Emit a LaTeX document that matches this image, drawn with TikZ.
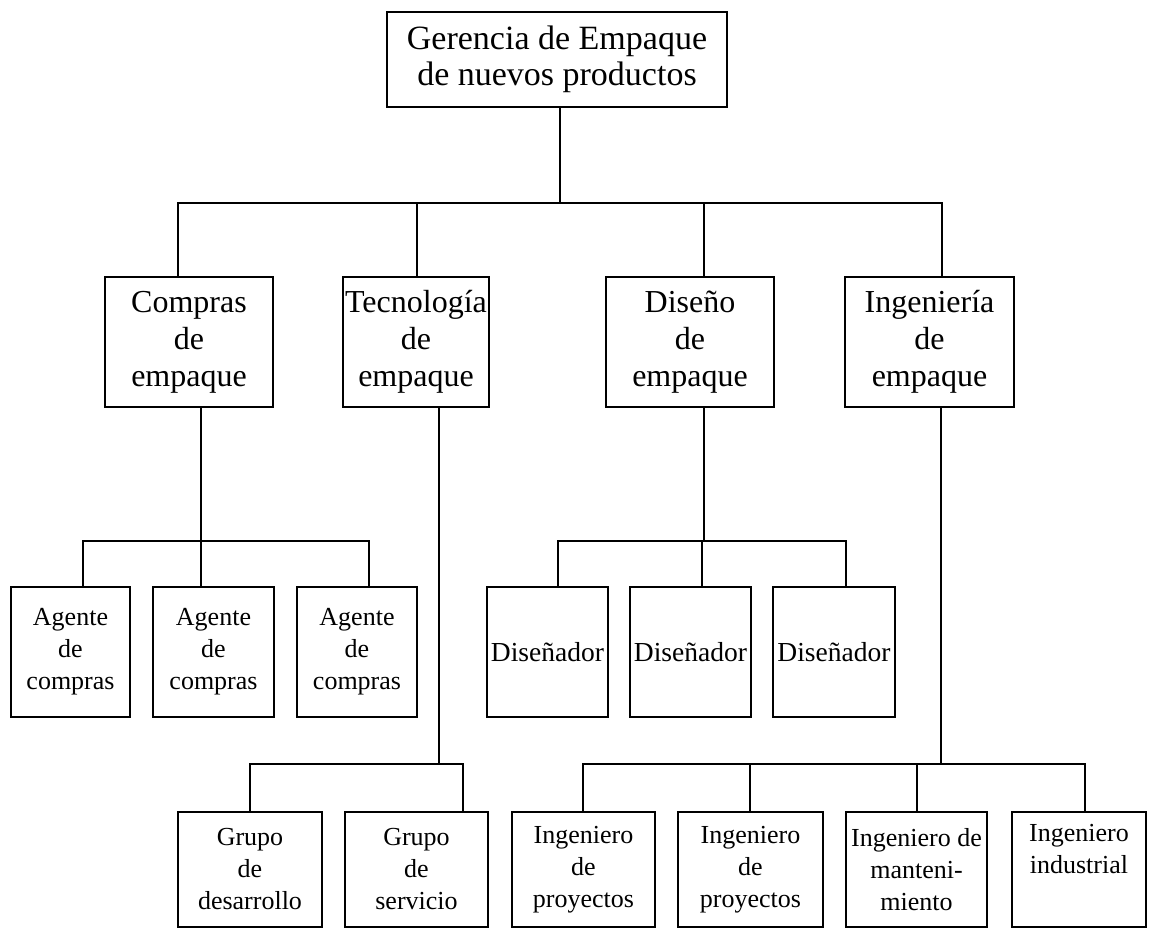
\documentclass[tikz,border=0pt]{standalone}
\usepackage{fontspec}
\setmainfont{Liberation Serif}
\begin{document}
\begin{tikzpicture}[x=1pt,y=-1pt,
  line width=2.7pt,
  box/.style={draw, rectangle, inner sep=0pt, align=center},
  lvlone/.style={box, font=\fontsize{34}{36}\selectfont},
  lvltwo/.style={box, minimum height=130, font=\fontsize{32}{37}\selectfont},
  lvlthree/.style={box, minimum height=130, font=\fontsize{26}{32}\selectfont},
  designer/.style={lvlthree, font=\fontsize{27.5}{32}\selectfont},
  lvlfour/.style={box, minimum height=115, font=\fontsize{26}{32}\selectfont}]
\useasboundingbox (0,0) rectangle (1149,929);

% head of the department
\node[lvlone, minimum width=340, minimum height=95] (top) at (557,59.5)
  {Gerencia de Empaque\\de nuevos productos};

% sections
\node[lvltwo, minimum width=168] (comp) at (189,342)   {Compras\\de\\empaque};
\node[lvltwo, minimum width=146] (tec)  at (416,342)   {Tecnología\\de\\empaque};
\node[lvltwo, minimum width=168] (dis)  at (690,342)   {Diseño\\de\\empaque};
\node[lvltwo, minimum width=169] (ing)  at (929.5,342) {Ingeniería\\de\\empaque};

% purchasing agents
\node[lvlthree, minimum width=119] (ag1) at (70.5,652)  {Agente\\de\\compras};
\node[lvlthree, minimum width=121] (ag2) at (213.5,652) {Agente\\de\\compras};
\node[lvlthree, minimum width=120] (ag3) at (357,652)   {Agente\\de\\compras};

% designers
\node[designer, minimum width=121] (d1) at (547.5,652) {Diseñador};
\node[designer, minimum width=121] (d2) at (690.5,652) {Diseñador};
\node[designer, minimum width=122] (d3) at (834,652)   {Diseñador};

% technology groups
\node[lvlfour, minimum width=144] (g1) at (250,869.5)   {Grupo\\de\\desarrollo};
\node[lvlfour, minimum width=143] (g2) at (416.5,869.5) {Grupo\\de\\servicio};

% engineers
\node[lvlfour, minimum width=143] (i1) at (583.5,869.5) {Ingeniero\\de\\proyectos};
\node[lvlfour, minimum width=145] (i2) at (750.5,869.5) {Ingeniero\\de\\proyectos};
\node[lvlfour, minimum width=141] (i3) at (916.5,869.5) {Ingeniero de\\manteni-\\miento};
\node[lvlfour, minimum width=134] (i4) at (1079,869.5)  {Ingeniero\\industrial\\\strut};

% bus junctions
\coordinate (ptop) at (560,203);
\coordinate (jcomp) at (178,203);
\coordinate (jtec)  at (417,203);
\coordinate (jdis)  at (704,203);
\coordinate (jing)  at (942,203);

\coordinate (pcomp) at (201,541);
\coordinate (jag1) at (83,541);
\coordinate (jag2) at (201,541);
\coordinate (jag3) at (369,541);

\coordinate (pdis) at (704,541);
\coordinate (jd1) at (558,541);
\coordinate (jd2) at (702,541);
\coordinate (jd3) at (846,541);

\coordinate (ptec) at (439,764);
\coordinate (jg1) at (250,764);
\coordinate (jg2) at (463,764);

\coordinate (ping) at (941,764);
\coordinate (ji1) at (583,764);
\coordinate (ji2) at (750,764);
\coordinate (ji3) at (917,764);
\coordinate (ji4) at (1085,764);

% top level
\draw (ptop |- top.south) -- (ptop);
\draw (jcomp |- comp.north) -- (jcomp) -- (jing) -- (jing |- ing.north);
\draw (jtec) -- (jtec |- tec.north);
\draw (jdis) -- (jdis |- dis.north);

% purchasing
\draw (pcomp |- comp.south) -- (pcomp);
\draw (jag1 |- ag1.north) -- (jag1) -- (jag3) -- (jag3 |- ag3.north);
\draw (jag2) -- (jag2 |- ag2.north);

% design
\draw (pdis |- dis.south) -- (pdis);
\draw (jd1 |- d1.north) -- (jd1) -- (jd3) -- (jd3 |- d3.north);
\draw (jd2) -- (jd2 |- d2.north);

% technology
\draw (ptec |- tec.south) -- (ptec);
\draw (jg1 |- g1.north) -- (jg1) -- (jg2) -- (jg2 |- g2.north);

% engineering
\draw (ping |- ing.south) -- (ping);
\draw (ji1 |- i1.north) -- (ji1) -- (ji4) -- (ji4 |- i4.north);
\draw (ji2) -- (ji2 |- i2.north);
\draw (ji3) -- (ji3 |- i3.north);
\end{tikzpicture}
\end{document}
